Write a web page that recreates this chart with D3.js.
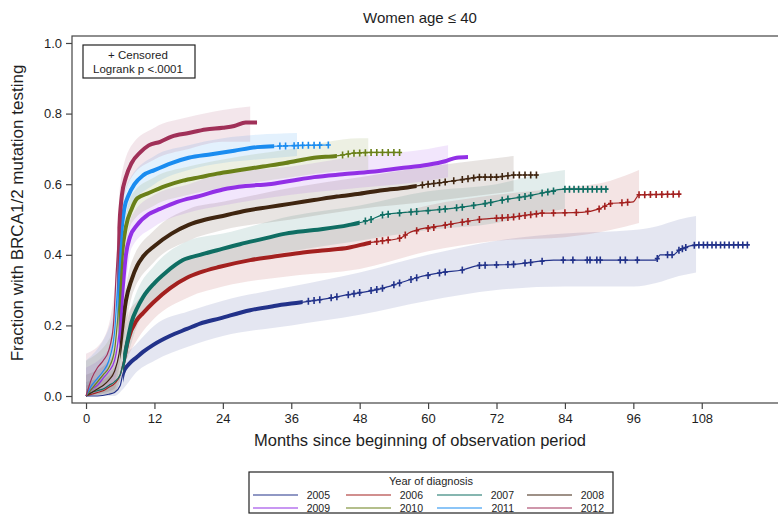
<!DOCTYPE html>
<html>
<head>
<meta charset="utf-8">
<script src="https://cdn.jsdelivr.net/npm/d3@7"></script>
<style>
body { margin: 0; background: #fff; }
text { font-family: "Liberation Sans", Arial, sans-serif; fill: #1e1e1e; }
</style>
</head>
<body>
<svg id="chart" width="778" height="514"></svg>
<script>
// series: year of diagnosis
const years = [2005, 2006, 2007, 2008, 2009, 2010, 2011, 2012];
const colors = ["#22328a", "#a3201f", "#0f6e63", "#3f2510", "#9230e6", "#6a8019", "#1a8cf0", "#a03058"];

// Kaplan-Meier curves [month, fraction]
const km2005 = [[0,0],[2,0],[4,0.005],[5,0.01],[6,0.03],[6.5,0.065],[7.5,0.09],[8.9,0.11],[10,0.125],[11.8,0.145],[14.7,0.17],[17.7,0.19],[20,0.205],[23.5,0.22],[28.8,0.243],[33,0.255],[37.5,0.265],[42,0.275],[46,0.287],[52,0.305],[55,0.32],[58,0.335],[62.5,0.35],[66,0.357],[69,0.37],[75,0.373],[82,0.385],[93.7,0.385],[100,0.385],[100.7,0.40],[103,0.40],[104,0.413],[105,0.42],[107,0.428],[116,0.428]];
const km2006 = [[0,0],[1,0.005],[2,0.01],[3,0.015],[4,0.025],[5,0.035],[6,0.06],[6.6,0.1],[7.4,0.16],[8.9,0.215],[10,0.235],[11.8,0.265],[14.7,0.305],[17.7,0.335],[20,0.35],[23.5,0.366],[28.8,0.385],[33,0.395],[37.5,0.405],[42,0.413],[46,0.42],[50,0.435],[55,0.447],[57,0.465],[63,0.484],[69,0.5],[75,0.507],[80,0.518],[87,0.52],[90,0.53],[92,0.545],[96,0.55],[97,0.57],[104,0.572]];
const km2007 = [[0,0],[1,0.01],[2,0.015],[3,0.02],[4,0.03],[5,0.04],[6,0.06],[6.6,0.1],[7.2,0.15],[8,0.21],[9,0.25],[10,0.28],[12,0.32],[14,0.35],[17,0.385],[20,0.40],[23,0.413],[27,0.43],[31,0.445],[35,0.46],[40,0.47],[46,0.484],[50,0.5],[52,0.513],[56,0.52],[60,0.525],[66,0.535],[70,0.545],[74,0.558],[77,0.565],[80,0.575],[84,0.586],[91.6,0.586]];
const km2008 = [[0,0],[1,0.01],[2,0.02],[3,0.03],[4,0.045],[5,0.07],[5.8,0.12],[6.4,0.2],[7,0.27],[8,0.33],[9,0.37],[10,0.395],[12,0.425],[15,0.46],[18,0.485],[21,0.50],[24,0.51],[28,0.525],[32,0.535],[36,0.545],[40,0.555],[44,0.565],[48,0.573],[52,0.583],[56,0.59],[60,0.60],[63,0.606],[66,0.613],[69,0.62],[72,0.62],[75,0.626],[79.3,0.626]];
const km2009 = [[0,0],[1,0.02],[2,0.03],[3,0.05],[4,0.07],[5,0.1],[5.8,0.18],[6.4,0.3],[7,0.40],[7.7,0.45],[9,0.485],[11,0.515],[13,0.53],[16,0.55],[20,0.567],[24,0.585],[28,0.595],[32,0.60],[36,0.61],[40,0.62],[45,0.628],[50,0.635],[55,0.645],[60,0.655],[63,0.665],[65,0.675],[67,0.677]];
const km2010 = [[0,0],[1,0.02],[2,0.04],[3,0.06],[4,0.08],[5,0.13],[5.7,0.25],[6.3,0.40],[7,0.48],[8,0.53],[9,0.56],[11,0.575],[14,0.595],[17,0.61],[20,0.62],[23,0.63],[27,0.64],[31,0.65],[35,0.66],[40,0.675],[44,0.68],[47,0.688],[50,0.69],[55,0.69]];
const km2011 = [[0,0],[1,0.03],[2,0.05],[3,0.07],[4,0.1],[5,0.18],[5.6,0.33],[6.1,0.45],[6.7,0.53],[7.5,0.57],[8.5,0.60],[10,0.625],[12,0.64],[15,0.66],[18,0.675],[22,0.685],[26,0.695],[30,0.705],[34,0.708],[38,0.71],[42.5,0.711]];
const km2012 = [[0,0],[1,0.05],[2,0.08],[3,0.10],[4,0.13],[4.8,0.2],[5.3,0.35],[5.8,0.48],[6.3,0.57],[7,0.62],[8,0.66],[9.5,0.69],[11,0.71],[13,0.72],[15,0.735],[18,0.745],[21,0.755],[24,0.76],[26,0.765],[28,0.775],[30,0.775]];

// confidence bands [month, lower, upper]
const ci2005 = [[0,0,0.02],[5,0,0.03],[6.5,0.02,0.10],[9,0.07,0.15],[12,0.10,0.20],[18,0.14,0.24],[24,0.17,0.27],[36,0.2,0.31],[48,0.23,0.35],[60,0.27,0.40],[72,0.30,0.44],[84,0.31,0.46],[96,0.31,0.47],[100,0.32,0.48],[104,0.34,0.50],[107,0.35,0.51]];
const ci2006 = [[0,0,0.03],[5,0.01,0.07],[7,0.1,0.22],[9,0.16,0.27],[12,0.22,0.32],[18,0.28,0.39],[24,0.31,0.42],[36,0.34,0.46],[48,0.36,0.49],[60,0.41,0.54],[72,0.44,0.57],[84,0.45,0.59],[92,0.47,0.61],[97,0.49,0.64]];
const ci2007 = [[0,0,0.04],[5,0.01,0.08],[7,0.10,0.20],[9,0.2,0.30],[12,0.27,0.37],[18,0.34,0.44],[24,0.37,0.46],[36,0.41,0.51],[48,0.44,0.54],[60,0.47,0.58],[72,0.49,0.60],[80,0.52,0.63],[84,0.53,0.64]];
const ci2008 = [[0,0,0.06],[5,0.02,0.12],[6.5,0.15,0.27],[8,0.28,0.38],[12,0.38,0.47],[18,0.44,0.53],[24,0.47,0.55],[36,0.50,0.59],[48,0.53,0.62],[60,0.55,0.65],[70,0.57,0.67],[75,0.58,0.68]];
const ci2009 = [[0,0,0.08],[5,0.04,0.16],[6.5,0.25,0.36],[8,0.42,0.51],[12,0.48,0.57],[18,0.52,0.60],[24,0.54,0.63],[36,0.57,0.65],[48,0.59,0.68],[60,0.61,0.70],[63.5,0.62,0.71]];
const ci2010 = [[0,0,0.1],[5,0.07,0.19],[6.5,0.36,0.46],[8,0.49,0.57],[12,0.54,0.62],[18,0.57,0.65],[24,0.59,0.67],[36,0.62,0.70],[48,0.64,0.73],[49.5,0.64,0.73]];
const ci2011 = [[0,0,0.1],[5,0.12,0.24],[6,0.38,0.5],[7.5,0.53,0.61],[12,0.60,0.68],[18,0.64,0.71],[24,0.66,0.73],[30,0.67,0.74],[37,0.68,0.745]];
const ci2012 = [[0,0,0.12],[3,0.05,0.16],[5,0.2,0.3],[6,0.5,0.6],[8,0.62,0.71],[12,0.67,0.76],[18,0.70,0.79],[24,0.72,0.81],[28.8,0.72,0.82]];

// spans where censoring marks run together, and single censoring times
const dense = [[[6.5,38]], [[6.6,50]], [[6.5,48]], [[6,58]], [[5.8,67]], [[5.7,44]], [[5.5,33]], [[5.5,30]]];
const cens2005 = [39,40,41,43,44,46,47,48,50,51,52,54,55,57,58,60,62,63,66,69,70,72,74,75,77,78,80,83.7,85.4,87.9,88.4,89.6,90.2,93.7,94.6,96.7,100.2,102,102.8,104,104.6,105.2,106.7,107.5,108.3,109,109.8,110.5,111.3,112,112.8,113.6,114.4,115.2,116];
const cens2006 = [51,52,53,55,56,58,60,61,63,64,66,67,69,72,73,74,75,76,77,78,79,80,82,84,86,88,90,91,92,94,95,97,98,99,100,101,102,103,104];
const cens2007 = [49,50,52,53,55,57,58,60,62,63,65,66,68,70,71,73,74,76,77,78,80,81,82,84,84.8,85.6,86.4,87.2,88,88.8,89.6,90.4,91.2];
const cens2008 = [59,60,61,62,63,64.5,66,67,68,69,70,71,72,73,74,75,76,77,78,79];
const cens2009 = [];
const cens2010 = [45,46,47,48,49,50,51,52,53,54,55];
const cens2011 = [34,35,36.5,37.2,38,39,40,41,42.5];
const cens2012 = [];

const xTicks = [0, 12, 24, 36, 48, 60, 72, 84, 96, 108];
const yTicks = [0.0, 0.2, 0.4, 0.6, 0.8, 1.0];

const kmAll = [km2005, km2006, km2007, km2008, km2009, km2010, km2011, km2012];
const ciAll = [ci2005, ci2006, ci2007, ci2008, ci2009, ci2010, ci2011, ci2012];
const censAll = [cens2005, cens2006, cens2007, cens2008, cens2009, cens2010, cens2011, cens2012];

const series = years.map((y, i) => ({
    year: y, color: colors[i], km: kmAll[i], ci: ciAll[i], dense: dense[i], cens: censAll[i]
}));

let svg = d3.select('#chart');
const pLeft = 72, pRight = 777, pTop = 36, pBottom = 403;

let x = d3.scaleLinear().domain([-2.46, 121.2]).range([pLeft, pRight]);
let y = d3.scaleLinear().domain([-0.0198, 1.0198]).range([pBottom, pTop]);

// value of a curve at month m (for placing censor marks)
function valueAt(km, m) {
    let i = d3.bisector(d => d[0]).right(km, m) - 1;
    if (i < 0) return km[0][1];
    if (i >= km.length - 1) return km[km.length - 1][1];
    let a = km[i], b = km[i + 1];
    return a[1] + (b[1] - a[1]) * (m - a[0]) / (b[0] - a[0]);
}

let defs = svg.append('defs');
let plot = svg.append('g');

let band = d3.area()
    .x(d => x(d[0]))
    .y0(d => y(d[1]))
    .y1(d => y(d[2]))
    .curve(d3.curveMonotoneX);

let line = d3.line()
    .x(d => x(d[0]))
    .y(d => y(d[1]))
    .curve(d3.curveMonotoneX);

series.forEach(s => {
    plot.append('path')
        .attr('d', band(s.ci))
        .attr('fill', s.color)
        .attr('fill-opacity', 0.12);
});

series.forEach((s, i) => {
    plot.append('path')
        .attr('d', line(s.km))
        .attr('fill', 'none')
        .attr('stroke', s.color)
        .attr('stroke-width', 1.2);

    // thick stretches where the + marks merge
    let clip = defs.append('clipPath').attr('id', 'dense' + i);
    s.dense.forEach(span => {
        clip.append('rect')
            .attr('x', x(span[0]))
            .attr('width', x(span[1]) - x(span[0]))
            .attr('y', pTop)
            .attr('height', pBottom - pTop);
    });
    plot.append('path')
        .attr('d', line(s.km))
        .attr('fill', 'none')
        .attr('stroke', s.color)
        .attr('stroke-width', 4)
        .attr('clip-path', `url(#dense${i})`);

    s.cens.forEach(m => {
        let cx = x(m), cy = y(valueAt(s.km, m));
        plot.append('path')
            .attr('d', `M${cx},${cy - 3.5}V${cy + 3.5}M${cx - 2.5},${cy}H${cx + 2.5}`)
            .attr('stroke', s.color)
            .attr('stroke-width', 1.6);
    });
});

// frame (right side runs off the picture) and axes
svg.append('rect')
    .attr('x', pLeft).attr('y', pTop)
    .attr('width', pRight + 10 - pLeft).attr('height', pBottom - pTop)
    .attr('fill', 'none')
    .attr('stroke', '#444')
    .attr('stroke-width', 1.2);

let xAxis = svg.append('g')
    .attr('transform', `translate(0,${pBottom})`)
    .call(d3.axisBottom(x).tickValues(xTicks).tickSize(6).tickPadding(5).tickFormat(d3.format('d')));
let yAxis = svg.append('g')
    .attr('transform', `translate(${pLeft},0)`)
    .call(d3.axisLeft(y).tickValues(yTicks).tickSize(6).tickPadding(4).tickFormat(d3.format('.1f')));
[xAxis, yAxis].forEach(a => {
    a.select('.domain').remove();
    a.selectAll('line').attr('stroke', '#444').attr('stroke-width', 1.2);
    a.selectAll('text').attr('font-size', 13).attr('fill', '#1e1e1e')
        .style('font-family', '"Liberation Sans", Arial, sans-serif');
});

svg.append('text')
    .attr('x', 420).attr('y', 23)
    .attr('text-anchor', 'middle')
    .attr('font-size', 15)
    .text('Women age \u2264 40');

svg.append('text')
    .attr('x', 420).attr('y', 446)
    .attr('text-anchor', 'middle')
    .attr('font-size', 16.5)
    .text('Months since beginning of observation period');

svg.append('text')
    .attr('transform', 'translate(23,213) rotate(-90)')
    .attr('text-anchor', 'middle')
    .attr('font-size', 17)
    .text('Fraction with BRCA1/2 mutation testing');

// inset box
svg.append('rect')
    .attr('x', 83).attr('y', 45).attr('width', 112).attr('height', 33)
    .attr('fill', '#fff').attr('stroke', '#222').attr('stroke-width', 1.2);
svg.append('text')
    .attr('x', 138).attr('y', 59)
    .attr('text-anchor', 'middle').attr('font-size', 11.5)
    .text('+ Censored');
svg.append('text')
    .attr('x', 138).attr('y', 73)
    .attr('text-anchor', 'middle').attr('font-size', 11.5)
    .text('Logrank p <.0001');

// legend
let legend = svg.append('g');
legend.append('rect')
    .attr('x', 249).attr('y', 472).attr('width', 364).attr('height', 41)
    .attr('fill', '#fff').attr('stroke', '#222').attr('stroke-width', 1.2);
legend.append('text')
    .attr('x', 431).attr('y', 485)
    .attr('text-anchor', 'middle').attr('font-size', 11)
    .text('Year of diagnosis');

const colX = [253, 346, 437, 527];
series.forEach((s, i) => {
    let cx = colX[i % 4], cy = i < 4 ? 495 : 508;
    legend.append('line')
        .attr('x1', cx).attr('x2', cx + 45)
        .attr('y1', cy).attr('y2', cy)
        .attr('stroke', s.color).attr('stroke-width', 1.2);
    legend.append('text')
        .attr('x', cx + 77).attr('y', cy + 4)
        .attr('text-anchor', 'end').attr('font-size', 10.5)
        .text(s.year);
});
</script>
</body>
</html>
